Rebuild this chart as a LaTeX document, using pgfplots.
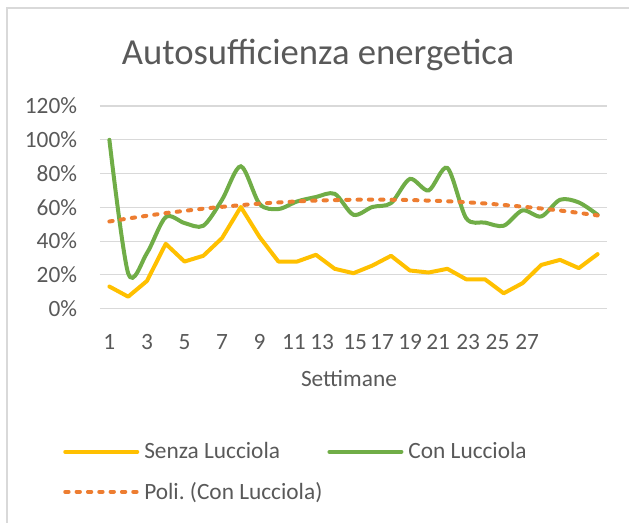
\documentclass[border=0pt]{standalone}
\usepackage{fontspec}
\setmainfont{Carlito}
\usepackage{pgfplots}
\pgfplotsset{compat=1.18}
\frenchspacing

\definecolor{senza}{HTML}{FFC000}
\definecolor{con}{HTML}{70AD47}
\definecolor{trend}{HTML}{ED7D31}
\definecolor{txt}{HTML}{595959}
\definecolor{griglia}{HTML}{D9D9D9}

\begin{document}
\begin{tikzpicture}[x=0.75pt,y=0.75pt]
\useasboundingbox (0,0) rectangle (629,522);
\begin{scope}
\clip (0,0) rectangle (629,522);
\draw[griglia, line width=1.5pt] (6.5,-10) -- (6.5,514) -- (640,514);
\end{scope}

\begin{axis}[
    at={(75pt,160pt)}, anchor=south west,
    scale only axis,
    width=380.25pt, height=152pt,
    xmin=0.5, xmax=27.5,
    ymin=0, ymax=120,
    axis line style={draw=none},
    major tick length=0pt,
    ytick={0,20,...,120},
    yticklabel={\pgfmathprintnumber[assume math mode=true]{\tick}\%},
    xtick={1,3,5,7,9,10.83,12.33,14.09,15.52,17.02,18.51,20.11,21.67,23.25}, % posizioni come nel grafico originale
    xticklabels={1,3,5,7,9,11,13,15,17,19,21,23,25,27},
    ymajorgrids,
    grid style={griglia, line width=0.9pt},
    tick label style={font=\fontsize{17.5pt}{20pt}\selectfont, text=txt},
    yticklabel style={anchor=east, inner sep=0pt, xshift=-17pt},
    xticklabel style={anchor=north, inner sep=0pt, yshift=-19pt},
    title={Autosufficienza energetica},
    title style={font=\fontsize{27.5pt}{32pt}\selectfont, text=txt,
        at={(axis description cs:0.43,1.21)}, anchor=center},
    xlabel={Settimane},
    xlabel style={font=\fontsize{17.5pt}{20pt}\selectfont, text=txt,
        at={(axis description cs:0.491,-0.347)}, anchor=center},
    legend columns=2,
    legend cell align=left,
    legend image code/.code={\draw[#1] (0pt,0pt) -- (54pt,0pt);},
    legend style={draw=none, fill=none, inner sep=0pt,
        font=\fontsize{17.5pt}{20pt}\selectfont, text=txt,
        at={(axis description cs:-0.073,-0.66)}, anchor=north west,
        nodes={inner sep=0pt},
        row sep=16pt,
        /tikz/every odd column/.append style={column sep=3.75pt},
        /tikz/every even column/.append style={column sep=3.75pt}},
]

% Senza Lucciola
\addplot[senza, line width=3pt, line join=round, line cap=round] coordinates {
    (1,13.1) (2,7.1) (3,16.4) (4,38.4) (5,27.9) (6,31.3) (7,41.8)
    (8,60.2) (9,42.4) (10,27.9) (11,27.9) (12,31.9) (13,23.6) (14,21.0)
    (15,25.5) (16,31.3) (17,22.6) (18,21.4) (19,23.6) (20,17.4) (21,17.4)
    (22,9.1) (23,15.1) (24,25.9) (25,28.9) (26,24.0) (27,32.3)
};
\addlegendentry{Senza Lucciola}

% Con Lucciola (linea smussata)
\addplot[con, line width=3pt, line cap=round, smooth] coordinates {
    (1,100) (2,21) (3,32.9) (4,54.2) (5,50.7) (6,49.1) (7,64.5)
    (8,84.3) (9,62) (10,59) (11,63.5) (12,66.1) (13,68) (14,55.6)
    (15,60.2) (16,62.5) (17,76.8) (18,70.0) (19,83.3) (20,53.6) (21,51)
    (22,49.1) (23,58.2) (24,54.6) (25,64.5) (26,62.9) (27,55.6)
};
\addlegendentry{Con Lucciola}

% tendenza polinomiale
\addplot[trend, line width=3pt, line cap=round, dash pattern=on 2.5pt off 6pt, smooth] coordinates {
    (1,51.6) (2,53.4) (3,55.0) (4,56.6) (5,57.9) (6,59.2) (7,60.3)
    (8,61.3) (9,62.2) (10,62.9) (11,63.5) (12,64.0) (13,64.3) (14,64.5)
    (15,64.6) (16,64.5) (17,64.3) (18,64.0) (19,63.6) (20,63.0) (21,62.3)
    (22,61.4) (23,60.4) (24,59.3) (25,58.1) (26,56.7) (27,55.2)
};
\addlegendentry{Poli. (Con Lucciola)}

\end{axis}
\end{tikzpicture}
\end{document}
